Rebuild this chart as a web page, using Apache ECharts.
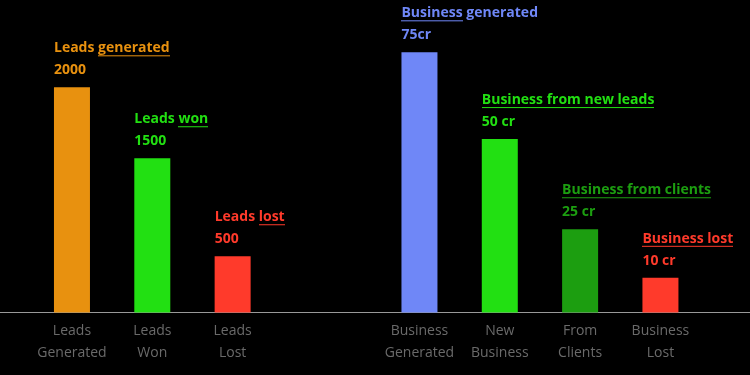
<!DOCTYPE html>
<html><head><meta charset="utf-8">
<script src="https://cdn.jsdelivr.net/npm/echarts@6/dist/echarts.min.js"></script>
<style>html,body{margin:0;padding:0;background:#000}#c{width:750px;height:375px}</style>
</head><body><div id="c"></div>
<script>
// ---- data ----
const leadsCategories = ['Leads\nGenerated', 'Leads\nWon', 'Leads\nLost'];
const leadsBarHeights = [2000, 1370, 500];
const leadsValueLabels = ['2000', '1500', '500'];
const leadsTitleBefore = ['Leads ', 'Leads ', 'Leads '];
const leadsTitleUnderlined = ['generated', 'won', 'lost'];
const leadsTitleAfter = ['', '', ''];
const leadsColors = ['#E8910F', '#22E012', '#FF3A2B'];

const businessCategories = ['Business\nGenerated', 'New\nBusiness', 'From\nClients', 'Business\nLost'];
const businessBarHeights = [75, 50, 24, 10];
const businessValueLabels = ['75cr', '50 cr', '25 cr', '10 cr'];
const businessTitleBefore = ['', '', '', ''];
const businessTitleUnderlined = ['Business', 'Business from new leads', 'Business from clients', 'Business lost'];
const businessTitleAfter = [' generated', '', '', ''];
const businessColors = ['#6F87F7', '#22E012', '#1C9E10', '#FF3A2B'];

// ---- helpers ----
function underlineImage(color) {
  const c = document.createElement('canvas');
  c.width = 8; c.height = 22;
  const ctx = c.getContext('2d');
  ctx.fillStyle = color;
  ctx.fillRect(0, 18, 8, 1);
  return c;
}
const FONT = 'Open Sans';
function buildData(values, labels, before, under, after, colors) {
  return values.map((v, i) => {
    const col = colors[i];
    let fmt = '';
    if (before[i]) fmt += '{t|' + before[i] + '}';
    fmt += '{u|' + under[i] + '}';
    if (after[i]) fmt += '{t|' + after[i] + '}';
    fmt += '\n{v|' + labels[i] + '}';
    return {
      value: v,
      itemStyle: { color: col },
      label: {
        show: true,
        position: [0, -6],
        align: 'left',
        verticalAlign: 'bottom',
        formatter: fmt,
        rich: {
          t: { color: col, fontFamily: FONT, fontWeight: 'bold', fontSize: 14, lineHeight: 22, height: 22 },
          u: { color: col, fontFamily: FONT, fontWeight: 'bold', fontSize: 14, lineHeight: 22, height: 22,
               backgroundColor: { image: underlineImage(col) } },
          v: { color: col, fontFamily: FONT, fontWeight: 'bold', fontSize: 14, lineHeight: 22, height: 22 }
        }
      }
    };
  });
}

const axisLabelStyle = { color: '#6a6a6a', fontFamily: FONT, fontSize: 14, lineHeight: 22, margin: 8, interval: 0 };

const chart = echarts.init(document.getElementById('c'));
chart.setOption({
  backgroundColor: '#000',
  animation: false,
  grid: [
    { left: 31.8, width: 241, top: 87.3, bottom: 62.5 },
    { left: 379.3, width: 321.3, top: 52.3, bottom: 62.5 },
    { left: 0, right: 0, top: 52.3, bottom: 62.5 }
  ],
  xAxis: [
    { type: 'category', gridIndex: 0, data: leadsCategories, axisLine: { show: false }, axisTick: { show: false }, axisLabel: axisLabelStyle },
    { type: 'category', gridIndex: 1, data: businessCategories, axisLine: { show: false }, axisTick: { show: false }, axisLabel: axisLabelStyle },
    { type: 'category', gridIndex: 2, data: [''], axisLine: { show: true, lineStyle: { color: '#999', width: 1 } }, axisTick: { show: false }, axisLabel: { show: false } }
  ],
  yAxis: [
    { type: 'value', gridIndex: 0, min: 0, max: 2000, show: false, splitLine: { show: false } },
    { type: 'value', gridIndex: 1, min: 0, max: 75, show: false, splitLine: { show: false } },
    { type: 'value', gridIndex: 2, show: false, splitLine: { show: false } }
  ],
  series: [
    { type: 'bar', xAxisIndex: 0, yAxisIndex: 0, barWidth: 36, z: 3,
      data: buildData(leadsBarHeights, leadsValueLabels, leadsTitleBefore, leadsTitleUnderlined, leadsTitleAfter, leadsColors) },
    { type: 'bar', xAxisIndex: 1, yAxisIndex: 1, barWidth: 36, z: 3,
      data: buildData(businessBarHeights, businessValueLabels, businessTitleBefore, businessTitleUnderlined, businessTitleAfter, businessColors) }
  ]
});
</script>
</body></html>
